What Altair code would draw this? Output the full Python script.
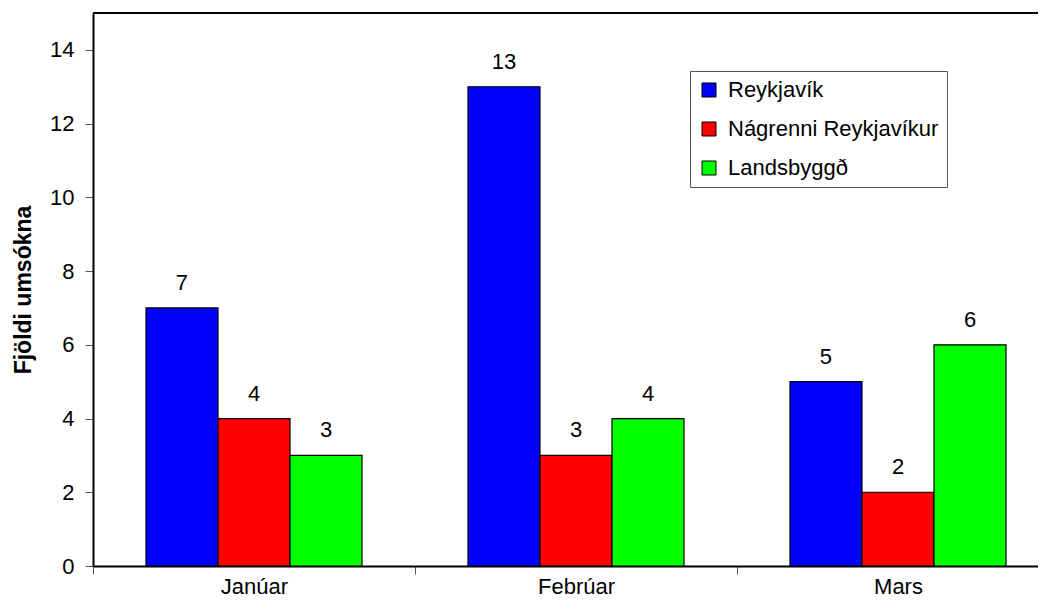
import altair as alt
import pandas as pd

categories = ["Janúar", "Febrúar", "Mars"]
series = ["Reykjavík", "Nágrenni Reykjavíkur", "Landsbyggð"]
reykjavik = [7, 13, 5]
nagrenni = [4, 3, 2]
landsbyggd = [3, 4, 6]
colors = ["#0000FF", "#FF0000", "#00FF00"]
y_ticks = [0, 2, 4, 6, 8, 10, 12, 14]

rows = []
for i, c in enumerate(categories):
    for s, vals in zip(series, [reykjavik, nagrenni, landsbyggd]):
        rows.append({"Mánuður": c, "Svæði": s, "Fjöldi": vals[i]})
df = pd.DataFrame(rows)

FONT = "Liberation Sans"
W, H = 966, 553

x = alt.X("Mánuður:N", sort=categories,
          scale=alt.Scale(paddingInner=0, paddingOuter=0),
          axis=alt.Axis(title=None, labelAngle=0, tickBand="extent", tickSize=8,
                        labelPadding=2, labelFontSize=22, labelFont=FONT,
                        labelColor="black", domainColor="black", tickColor="#555555",
                        domainWidth=2, tickWidth=1))
xo = alt.XOffset("Svæði:N", sort=series,
                 scale=alt.Scale(paddingInner=0, paddingOuter=0.736))
y = alt.Y("Fjöldi:Q", scale=alt.Scale(domain=[0, 15], nice=False),
          axis=alt.Axis(title="Fjöldi umsókna", values=y_ticks, grid=False,
                        tickSize=8, labelPadding=11, labelFontSize=22, labelFont=FONT,
                        labelColor="black", titleFont=FONT, titleFontSize=23,
                        titleFontWeight="bold", titleColor="black", titlePadding=14,
                        domainColor="black", tickColor="#555555", domainWidth=2,
                        tickWidth=1))

bars = alt.Chart(df).mark_bar(stroke="black", strokeWidth=1.2).encode(
    x=x, xOffset=xo, y=y,
    color=alt.Color("Svæði:N", sort=series,
                    scale=alt.Scale(domain=series, range=colors),
                    legend=alt.Legend(title=None, orient="none", legendX=597, legendY=58,
                                      symbolType="square", symbolSize=196,
                                      symbolStrokeColor="black", symbolStrokeWidth=1,
                                      labelFont=FONT, labelFontSize=22, labelColor="black",
                                      labelOffset=8, labelLimit=400, rowPadding=17,
                                      padding=8, strokeColor="#555555", fillColor="white")),
)

labels = alt.Chart(df).mark_text(baseline="alphabetic", dy=-18, fontSize=22,
                                 font=FONT, color="black").encode(
    x=alt.X("Mánuður:N", sort=categories), xOffset=alt.XOffset("Svæði:N", sort=series),
    y="Fjöldi:Q", text="Fjöldi:Q")

top_border = alt.Chart(pd.DataFrame({"k": [0]})).mark_rule(
    color="black", strokeWidth=2).encode(
    x=alt.value(0), x2=alt.value(W), y=alt.value(0))

chart = alt.layer(bars, labels, top_border).properties(
    width=W, height=H,
    autosize=alt.AutoSizeParams(type="none"),
    padding={"left": 85, "top": 5, "right": -21, "bottom": 34},
).configure_view(stroke="black", strokeWidth=2).configure(background="white")

chart.save("out.html", embed_options={"renderer": "svg", "actions": False})
